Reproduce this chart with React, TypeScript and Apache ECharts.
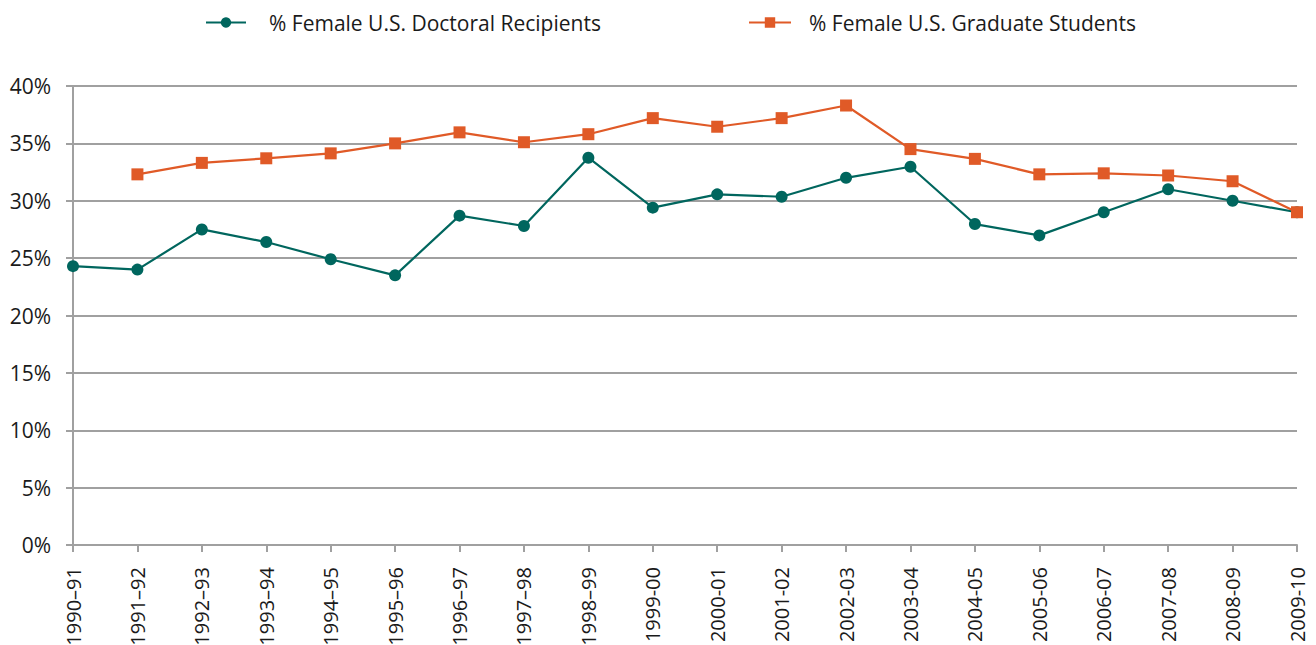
import React, { useEffect, useRef } from "react";
import * as echarts from "echarts";

const categories = [
  "1990–91", "1991–92", "1992–93", "1993–94", "1994–95", "1995–96", "1996–97",
  "1997–98", "1998–99", "1999-00", "2000-01", "2001-02", "2002-03", "2003-04",
  "2004-05", "2005-06", "2006-07", "2007-08", "2008-09", "2009-10",
];

const doctoralName = "% Female U.S. Doctoral Recipients";
const graduateName = "% Female U.S. Graduate Students";

const doctoralValues = [
  24.3, 24.0, 27.5, 26.4, 24.9, 23.5, 28.7, 27.8, 33.75, 29.4,
  30.56, 30.35, 32.0, 32.96, 27.97, 26.98, 29.0, 31.0, 30.0, 29.0,
];

const graduateValues = [
  null, 32.3, 33.3, 33.7, 34.13, 35.0, 35.96, 35.1, 35.8, 37.2,
  36.45, 37.2, 38.3, 34.5, 33.65, 32.3, 32.39, 32.2, 31.7, 29.0,
];

const yTicks = { min: 0, max: 40, interval: 5 };

const TEAL = "#00665E";
const ORANGE = "#E05A27";
const GRID_GRAY = "#A0A0A0";
const FONT = "'Open Sans', 'Noto Sans', sans-serif";

export default function App() {
  const ref = useRef<HTMLDivElement>(null);

  useEffect(() => {
    if (!ref.current) return;
    const chart = echarts.init(ref.current, null, { renderer: "svg" });
    const legendText = (pad: number) => ({
      fontFamily: FONT,
      fontSize: 21,
      color: "#1a1a1a",
      padding: [0, 0, 0, pad],
    });
    chart.setOption({
      animation: false,
      backgroundColor: "#ffffff",
      textStyle: { fontFamily: FONT },
      legend: [
        {
          data: [doctoralName],
          left: 200,
          top: 7,
          itemWidth: 40,
          itemHeight: 13,
          textStyle: legendText(18),
        },
        {
          data: [graduateName],
          left: 743,
          top: 7,
          itemWidth: 42,
          itemHeight: 13,
          textStyle: legendText(13),
        },
      ],
      grid: {
        left: 73,
        right: 19,
        top: 86,
        bottom: 100,
        containLabel: false,
        outerBoundsMode: "none",
      },
      xAxis: {
        type: "category",
        data: categories,
        boundaryGap: false,
        axisLine: { show: true, lineStyle: { color: GRID_GRAY, width: 2 } },
        axisTick: { show: true, length: 7, lineStyle: { color: GRID_GRAY, width: 2 } },
        axisLabel: {
          rotate: 90,
          margin: 22,
          fontSize: 20,
          fontFamily: FONT,
          color: "#1a1a1a",
          interval: 0,
        },
        splitLine: { show: false },
      },
      yAxis: {
        type: "value",
        min: yTicks.min,
        max: yTicks.max,
        interval: yTicks.interval,
        axisLine: { show: true, lineStyle: { color: GRID_GRAY, width: 2 } },
        axisTick: { show: true, length: 7, lineStyle: { color: GRID_GRAY, width: 2 } },
        axisLabel: {
          formatter: "{value}%",
          margin: 22,
          fontSize: 21,
          fontFamily: FONT,
          color: "#1a1a1a",
        },
        splitLine: { show: true, lineStyle: { color: GRID_GRAY, width: 2 } },
      },
      series: [
        {
          name: doctoralName,
          type: "line",
          data: doctoralValues,
          symbol: "circle",
          symbolSize: 12,
          itemStyle: { color: TEAL },
          lineStyle: { color: TEAL, width: 2.2 },
          z: 3,
        },
        {
          name: graduateName,
          type: "line",
          data: graduateValues,
          symbol: "rect",
          symbolSize: 12,
          itemStyle: { color: ORANGE },
          lineStyle: { color: ORANGE, width: 2.2 },
          connectNulls: false,
          z: 4,
        },
      ],
    });
    return () => chart.dispose();
  }, []);

  return (
    <div
      ref={ref}
      style={{ position: "fixed", left: 0, top: 0, width: 1316, height: 645 }}
    />
  );
}
